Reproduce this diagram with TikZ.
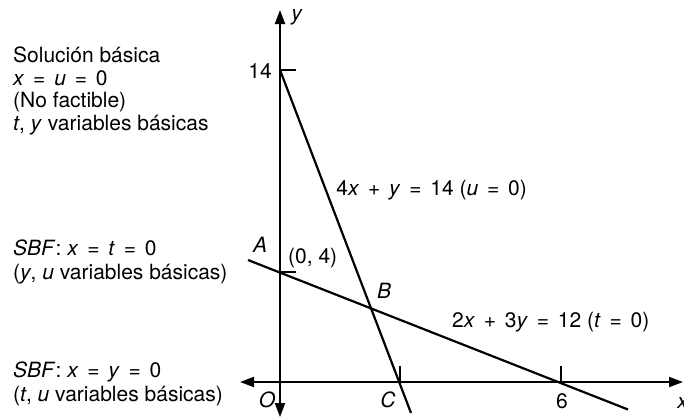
\documentclass[tikz,border=0pt]{standalone}
\usepackage{fontspec}
\setmainfont{TeX Gyre Heros}
\usetikzlibrary{arrows.meta}
\newcommand{\opsp}{\hspace{0.42em}}
\begin{document}
\begin{tikzpicture}[x=1pt,y=-1pt,
  lbl/.style={font=\fontsize{21}{25}\selectfont, inner sep=0pt},
  ln/.style={line width=2.2pt},
  ax/.style={line width=2pt, {Triangle[length=14pt,width=10pt]}-{Triangle[length=14pt,width=10pt]}},
  tickmark/.style={line width=1.4pt}]
\useasboundingbox (0,0) rectangle (684,418);
% coordinates
\coordinate (O) at (280,382);
\coordinate (xl) at (240,382);
\coordinate (xr) at (683,382);
\coordinate (yt) at (280,10);
\coordinate (yb) at (280,417);
\coordinate (Y14) at (280,70);
\coordinate (Y4) at (280,272);
\coordinate (C) at (400,382);
\coordinate (X6) at (561,382);
\coordinate (l1e) at (411,413);
\coordinate (l2s) at (248,260);
\coordinate (l2e) at (628,409.5);
% axes
\draw[ax] (xl) -- (xr);
\draw[ax] (yb) -- (yt);
% ticks
\draw[tickmark] (Y14) -- ++(16,0);
\draw[tickmark] (Y4) -- ++(16,0);
\draw[tickmark] (C) -- ++(0,-16);
\draw[tickmark] (X6) -- ++(0,-16);
% lines
\draw[ln] (Y14) -- (l1e);
\draw[ln] (l2s) -- (l2e);
% axis labels
\node[lbl, anchor=base] (ylab) at (297,20) {\textit{y}};
\node[lbl, anchor=base] (xlab) at (683,408) {\textit{x}};
\node[lbl, anchor=base] (n14) at (260,78) {14};
\node[lbl, anchor=base] (Olab) at (267,407) {\textit{O}};
\node[lbl, anchor=base] (Clab) at (388,407) {\textit{C}};
\node[lbl, anchor=base] (n6) at (562,408) {6};
\node[lbl, anchor=base] (Alab) at (260,252) {\textit{A}};
\node[lbl, anchor=base] (Blab) at (384,298) {\textit{B}};
\node[lbl, anchor=base west] (p04) at (288,263) {(0, 4)};
% equations
\node[lbl, anchor=base east] (eq1) at (527,195) {4\textit{x}\opsp+\opsp\textit{y}\opsp=\opsp14 (\textit{u}\opsp=\opsp0)};
\node[lbl, anchor=base west] (eq2) at (452,327) {2\textit{x}\opsp+\opsp3\textit{y}\opsp=\opsp12 (\textit{t}\opsp=\opsp0)};
% left texts
\node[lbl, anchor=base west] (s1) at (13,62) {Solución básica};
\node[lbl, anchor=base west] (s2) at (13,85) {\textit{x}\opsp=\opsp\textit{u}\opsp=\opsp0};
\node[lbl, anchor=base west] (s3) at (13,107) {(No factible)};
\node[lbl, anchor=base west] (s4) at (13,130) {\textit{t}, \textit{y} variables básicas};
\node[lbl, anchor=base west] (a1) at (13,255) {\textit{SBF}: \textit{x}\opsp=\opsp\textit{t}\opsp=\opsp0};
\node[lbl, anchor=base west] (a2) at (13,279) {(\textit{y}, \textit{u} variables básicas)};
\node[lbl, anchor=base west] (o1) at (13,377) {\textit{SBF}: \textit{x}\opsp=\opsp\textit{y}\opsp=\opsp0};
\node[lbl, anchor=base west] (o2) at (13,401) {(\textit{t}, \textit{u} variables básicas)};
\end{tikzpicture}
\end{document}
